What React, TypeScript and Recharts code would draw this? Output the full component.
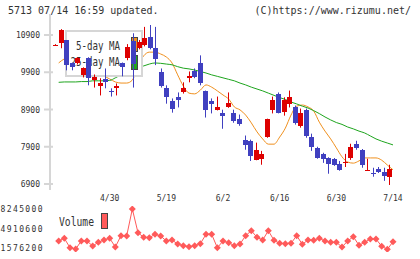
import React from 'react';
import { ComposedChart, Bar, Line, XAxis, YAxis, Legend } from 'recharts';

const MONO = '"DejaVu Sans Mono", monospace';
const TEXT = '#333';
const GRID = '#d6d6d6';
const UP = '#dd0000';
const DOWN = '#4040c0';
const MA5_COLOR = '#f0901e';
const MA25_COLOR = '#1ea51e';
const VOL_COLOR = '#ff5a5a';

const headerLeft = '5713 07/14 16:59 updated.';
const headerRight = '(C)https://www.rizumu.net/';

const dates = [
  '4/15', '4/16', '4/17', '4/20', '4/21', '4/22', '4/23', '4/24', '4/27', '4/28',
  '4/30', '5/1', '5/7', '5/8', '5/11', '5/12', '5/13', '5/14', '5/15', '5/18',
  '5/19', '5/20', '5/21', '5/22', '5/25', '5/26', '5/27', '5/28', '5/29', '6/1',
  '6/2', '6/3', '6/4', '6/5', '6/8', '6/9', '6/10', '6/11', '6/12', '6/15',
  '6/16', '6/17', '6/18', '6/19', '6/22', '6/23', '6/24', '6/25', '6/26', '6/29',
  '6/30', '7/1', '7/2', '7/3', '7/6', '7/7', '7/8', '7/9', '7/10', '7/13', '7/14',
];

const opens = [
  10630, 10690, 10770, 10150, 10150, 9830, 10280, 9690, 9530, 9720,
  9420, 9480, 10150, 10280, 10740, 10550, 10630, 10850, 10550, 9910,
  9500, 9130, 9260, 9370, 9750, 9930, 10150, 9400, 9130, 8910,
  8830, 8970, 8830, 8670, 8110, 8080, 7570, 7600, 8190, 8910,
  9340, 8860, 9070, 8990, 8480, 8910, 8190, 7890, 7730, 7620,
  7600, 7460, 7490, 7620, 8000, 7840, 7280, 7220, 7330, 7250, 7120,
];
const closes = [
  10640, 11030, 10100, 10040, 10280, 10010, 9750, 9770, 9610, 9640,
  9370, 9530, 10040, 10580, 10120, 10710, 10820, 10550, 10260, 9530,
  9240, 8940, 9160, 9500, 9800, 9770, 9610, 8910, 9050, 8990,
  8750, 9100, 8620, 8540, 7970, 7680, 7840, 7730, 8650, 9180,
  8830, 9160, 9260, 8560, 8830, 8220, 7920, 7620, 7600, 7460,
  7440, 7300, 7520, 7920, 7890, 7440, 7300, 7200, 7250, 7140, 7330,
];
const highs = [
  10660, 11060, 10770, 10170, 10310, 10040, 10310, 9850, 9750, 10010,
  9480, 9610, 10170, 10660, 10950, 10770, 11120, 11170, 11120, 10010,
  9560, 9210, 9370, 9640, 9930, 10010, 10360, 9420, 9210, 9260,
  8910, 9370, 8910, 8780, 8220, 8110, 8030, 7810, 8670, 9260,
  9370, 9240, 9420, 9020, 8940, 8940, 8270, 7920, 7760, 7640,
  7620, 7540, 7730, 8000, 8080, 7860, 7600, 7360, 7380, 7360, 7440,
];
const lows = [
  10610, 10550, 9960, 9960, 10120, 9770, 9560, 9500, 9290, 9480,
  9260, 9290, 9800, 10230, 9500, 10520, 10600, 10520, 10100, 9500,
  9070, 8830, 8970, 9340, 9640, 9750, 9560, 8700, 8810, 8890,
  8400, 8960, 8560, 8480, 7840, 7540, 7560, 7440, 8160, 8810,
  8810, 8750, 8970, 8510, 8430, 8160, 7810, 7600, 7490, 7200,
  7410, 7280, 7380, 7570, 7840, 7360, 7280, 7120, 7220, 7010, 6900,
];

const ma5 = [
  null, 10150, 10260, 10310, 10310, 10230, 10120, 10010, 9910, 9800,
  9720, 9640, 9610, 9610, 9690, 10070, 10340, 10440, 10440, 10390,
  10310, 10150, 9830, 9530, 9340, 9320, 9420, 9560, 9500, 9400,
  9290, 9180, 8970, 8890, 8750, 8540, 8300, 8110, 7970, 7970,
  8160, 8400, 8750, 8990, 9020, 8970, 8860, 8560, 8320, 8110,
  7870, 7630, 7490, 7460, 7520, 7600, 7600, 7600, 7540, 7410, 7280,
];
const ma25 = [
  null, 9630, 9640, 9640, 9640, 9650, 9650, 9670, 9670, 9670,
  9680, 9750, 9830, 9910, 9990, 10040, 10070, 10120, 10150, 10140,
  10120, 10100, 10050, 10010, 9990, 9960, 9920, 9880, 9830, 9790,
  9750, 9710, 9670, 9610, 9560, 9500, 9450, 9400, 9340, 9280,
  9220, 9170, 9100, 9050, 8990, 8940, 8870, 8790, 8700, 8620,
  8550, 8500, 8430, 8380, 8320, 8270, 8190, 8110, 8050, 8000, 7950,
];
const volumes = [
  null, 2840000, 3300000, 1710000, 1490000, 2840000, 2840000, 2000000, 2620000, 3010000,
  3300000, 1830000, 3740000, 3690000, 8245000, 4240000, 3470000, 3400000, 3970000, 3690000,
  2840000, 3010000, 2340000, 2050000, 1880000, 2050000, 2390000, 3970000, 3970000, 1710000,
  2840000, 2560000, 2050000, 2340000, 3740000, 4580000, 3470000, 3010000, 4580000, 2960000,
  2450000, 2390000, 2450000, 3740000, 2290000, 3010000, 2960000, 3300000, 2840000, 2620000,
  2620000, 1830000, 2840000, 3570000, 2120000, 2620000, 3180000, 3180000, 1950000, 1440000, 2720000,
];

const priceTicks = [6900, 7900, 8900, 9900, 10900];
const volumeTicks = [1576200, 4910600, 8245000];
const dateTicks = ['4/30', '5/19', '6/2', '6/16', '6/30', '7/14'];
const frameTicks = Array.from({ length: 12 }, (_, i) => i);

const maSeries = [
  { key: 'ma5', name: '5-day MA', color: MA5_COLOR },
  { key: 'ma25', name: '25-day MA', color: MA25_COLOR },
];

const rows = dates.map((date, i) => ({
  date,
  open: opens[i],
  high: highs[i],
  low: lows[i],
  close: closes[i],
  ma5: ma5[i],
  ma25: ma25[i],
  volume: volumes[i],
}));

const PRICE_DOMAIN: [number, number] = [6739, 11464];
const VOLUME_DOMAIN: [number, number] = [985300, 8751500];
const X_PAD = { left: 3, right: 13 };

function Candle(props: any) {
  const { x, y, width, height, payload } = props;
  if (!payload || height == null) return <g />;
  const top = Math.min(y, y + height);
  const h = Math.abs(height);
  const ppu = h / (payload.high - payload.low);
  const py = (v: number) => top + (payload.high - v) * ppu;
  const color = payload.close >= payload.open ? UP : DOWN;
  const bodyTop = Math.round(py(Math.max(payload.open, payload.close)));
  const bodyBottom = Math.round(py(Math.min(payload.open, payload.close)));
  const left = Math.round(x);
  const cx = left + Math.floor(width / 2) + 0.5;
  return (
    <g>
      <line x1={cx} x2={cx} y1={top} y2={top + h} stroke={color} strokeWidth={1} />
      <rect x={left} y={bodyTop} width={Math.round(width)} height={Math.max(1, bodyBottom - bodyTop)} fill={color} />
    </g>
  );
}

function PriceTick(props: any) {
  const { x, y, payload } = props;
  return (
    <g>
      <line x1={x + 4} x2={x + 13} y1={y} y2={y} stroke={GRID} strokeWidth={2} />
      <text x={x} y={y} dy={3} textAnchor="end" fontSize={8} fill={TEXT} fontFamily={MONO}>
        {payload.value}
      </text>
    </g>
  );
}

function Diamond(props: any) {
  const { cx, cy, index } = props;
  if (cx == null || cy == null) return <g key={index} />;
  const r = 3.5;
  return (
    <polygon
      key={index}
      points={`${cx},${cy - r} ${cx + r},${cy} ${cx},${cy + r} ${cx - r},${cy}`}
      fill={VOL_COLOR}
    />
  );
}

function MainLegend() {
  return (
    <svg width={78} height={47} style={{ display: 'block' }}>
      <rect x={1} y={1} width={76} height={45} fill="#fff" stroke={GRID} strokeWidth={2} />
      {maSeries.map((s, i) => (
        <g key={s.key}>
          <text
            x={55}
            y={20 + i * 16}
            textAnchor="end"
            fontSize={12}
            fill={TEXT}
            fontFamily={MONO}
            textLength={s.name.length * 5.5}
            lengthAdjust="spacingAndGlyphs"
          >
            {s.name}
          </text>
          <rect x={66.5} y={7.5 + i * 18} width={6} height={14} fill={s.color} stroke="#444" />
        </g>
      ))}
    </svg>
  );
}

function VolumeLegend() {
  return (
    <svg width={50} height={16} style={{ display: 'block' }}>
      <text x={0} y={12.5} fontSize={12} fill={TEXT} fontFamily={MONO} textLength={35} lengthAdjust="spacingAndGlyphs">
        Volume
      </text>
      <rect x={42.5} y={0.5} width={6} height={15} fill={VOL_COLOR} stroke="#444" />
    </svg>
  );
}

export default function App() {
  return (
    <div style={{ position: 'absolute', left: 0, top: 0, width: 420, height: 259, background: '#fff', overflow: 'hidden' }}>
      <div style={{ position: 'absolute', left: 8, top: 5, fontSize: 10, lineHeight: '12px', fontFamily: MONO, color: TEXT, whiteSpace: 'pre' }}>
        {headerLeft}
      </div>
      <div style={{ position: 'absolute', right: 9, top: 5, fontSize: 10, lineHeight: '12px', fontFamily: MONO, color: TEXT, whiteSpace: 'pre' }}>
        {headerRight}
      </div>

      {/* price axes, moving averages and legend */}
      <div style={{ position: 'absolute', left: 0, top: 0 }}>
        <ComposedChart width={420} height={205} data={rows} margin={{ top: 14, right: 14, bottom: 0, left: 0 }}>
          <XAxis
            xAxisId="d"
            dataKey="date"
            padding={X_PAD}
            ticks={dateTicks}
            interval={0}
            height={15}
            axisLine={false}
            tickLine={false}
            tickSize={0}
            tickMargin={5}
            tick={{ fontSize: 8, fill: TEXT, fontFamily: MONO }}
          />
          <YAxis
            domain={PRICE_DOMAIN}
            allowDataOverflow
            ticks={priceTicks}
            interval={0}
            width={50}
            axisLine={{ stroke: GRID, strokeWidth: 2 }}
            tickLine={false}
            tickSize={6}
            tickMargin={4}
            tick={<PriceTick />}
          />
          {maSeries.map((s) => (
            <Line
              key={s.key}
              xAxisId="d"
              dataKey={s.key}
              name={s.name}
              type="monotone"
              stroke={s.color}
              strokeWidth={1}
              dot={false}
              isAnimationActive={false}
            />
          ))}
          <Legend
            layout="horizontal"
            align="center"
            verticalAlign="middle"
            wrapperStyle={{ left: 65, top: 30, width: 78, height: 47 }}
            content={() => <MainLegend />}
          />
        </ComposedChart>
      </div>

      {/* candles on top of the legend */}
      <div style={{ position: 'absolute', left: 0, top: 0 }}>
        <ComposedChart width={420} height={205} data={rows} margin={{ top: 14, right: 14, bottom: 14, left: 50 }}>
          <XAxis xAxisId="c" dataKey="date" padding={X_PAD} hide />
          <XAxis
            xAxisId="g"
            type="number"
            domain={[0, 11]}
            allowDataOverflow
            ticks={frameTicks}
            interval={0}
            height={1}
            mirror
            axisLine={false}
            tickLine={{ stroke: GRID, strokeWidth: 2 }}
            tickSize={9}
            tick={false}
          />
          <YAxis domain={PRICE_DOMAIN} allowDataOverflow hide />
          <Bar
            xAxisId="c"
            dataKey={(d: any) => [d.low, d.high]}
            barSize={5}
            shape={Candle}
            isAnimationActive={false}
          />
        </ComposedChart>
      </div>

      {/* volume */}
      <div style={{ position: 'absolute', left: 0, top: 205 }}>
        <ComposedChart width={420} height={54} data={rows} margin={{ top: 1, right: 14, bottom: 7, left: 0 }}>
          <XAxis dataKey="date" padding={X_PAD} hide />
          <YAxis
            domain={VOLUME_DOMAIN}
            allowDataOverflow
            ticks={volumeTicks}
            interval={0}
            width={50}
            axisLine={false}
            tickLine={false}
            tickSize={0}
            tickMargin={6}
            tick={{ fontSize: 8, fill: TEXT, fontFamily: MONO, letterSpacing: 1.4 }}
          />
          <Line
            dataKey="volume"
            name="Volume"
            stroke={VOL_COLOR}
            strokeWidth={1}
            dot={Diamond}
            isAnimationActive={false}
          />
          <Legend
            layout="horizontal"
            align="center"
            verticalAlign="middle"
            wrapperStyle={{ left: 59, top: 8, width: 50, height: 16 }}
            content={() => <VolumeLegend />}
          />
        </ComposedChart>
      </div>
    </div>
  );
}
